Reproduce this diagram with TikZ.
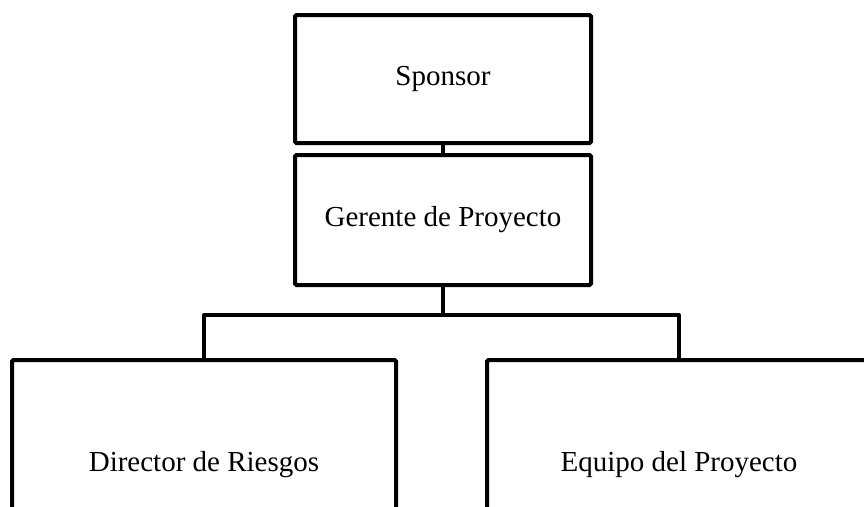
\documentclass[tikz,border=0pt]{standalone}
\usepackage{fontspec}
\setmainfont{Liberation Serif}
\usepackage{xcolor}
\definecolor{orgBlack}{RGB}{0, 0, 0}

\begin{document}
\begin{tikzpicture}[x=1pt, y=-1pt]
            % Styles
            \tikzstyle{role} = [rectangle, draw=orgBlack, line width=4pt, rounded corners=1.5pt, fill=white, text=orgBlack, inner sep=0pt, font=\fontsize{29}{34}\selectfont]
            \tikzstyle{top} = [role, minimum width=296pt, minimum height=128pt]
            \tikzstyle{mid} = [role, minimum width=296pt, minimum height=130pt]
            \tikzstyle{low} = [role, minimum width=384pt, minimum height=210pt]
            \tikzstyle{link} = [draw=orgBlack, line width=4pt, line join=round]

            \useasboundingbox (0, 0) rectangle (864, 506);
            \clip (0, 0) rectangle (864, 506);

            % Boxes
            \node[top] (spon) at (443, 79) {Sponsor};
            \node[mid] (ger) at (443, 220) {Gerente de Proyecto};
            \node[low] (dir) at (204, 465) {Director de Riesgos};
            \node[low] (equ) at (679, 465) {Equipo del Proyecto};

            % Links
            \draw[link] (spon.south) -- (ger.north);
            \draw[link] (ger.south) -- ++(0, 28) -| (dir.north);
            \draw[link] (ger.south) -- ++(0, 28) -| (equ.north);
        \end{tikzpicture}
\end{document}
